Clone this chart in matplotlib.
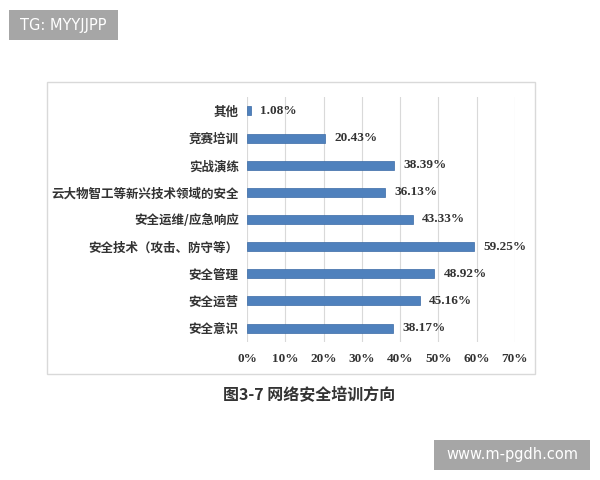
import matplotlib
matplotlib.use("Agg")
import matplotlib.pyplot as plt
from matplotlib.patches import Rectangle

categories = ["安全意识", "安全运营", "安全管理", "安全技术（攻击、防守等）",
              "安全运维/应急响应", "云大物智工等新兴技术领域的安全",
              "实战演练", "竞赛培训", "其他"]
values = [38.17, 45.16, 48.92, 59.25, 43.33, 36.13, 38.39, 20.43, 1.08]
xticks = [0, 10, 20, 30, 40, 50, 60, 70]
title = "图3-7 网络安全培训方向"

plt.rcParams['font.family'] = ['Noto Sans CJK SC', 'DejaVu Sans']

fig = plt.figure(figsize=(6, 4.8), dpi=100)
fig.patch.set_facecolor("white")

def px_rect(x0, y0, x1, y1, **kw):
    return Rectangle((x0/600, 1-y1/480), (x1-x0)/600, (y1-y0)/480,
                     transform=fig.transFigure, **kw)

# chart frame
fig.patches.append(px_rect(47, 82, 535, 374, fill=False,
                           edgecolor="#d9d9d9", linewidth=1.0))

ax = fig.add_axes([247/600, 1-341.6/480, (515-247)/600, (341.6-97.4)/480])
y = list(range(len(categories)))
ax.barh(y, values, height=0.33, color="#4f81bd", edgecolor="#3a6aa5", linewidth=0.5, zorder=3)
for yi, v in zip(y, values):
    ax.text(v + 2.4, yi, f"{v:.2f}%", va="center", ha="left", fontsize=9.5,
            family="Liberation Serif", fontweight="bold", color="#333333")
ax.set_xlim(0, 70)
ax.set_ylim(-0.5, len(categories) - 0.5)
ax.set_xticks(xticks)
ax.set_xticklabels([f"{t}%" for t in xticks], family="Liberation Serif",
                   fontweight="bold", fontsize=9.5, color="#333333")
ax.set_yticks(y)
ax.set_yticklabels(categories, fontsize=9, fontweight="bold", color="#333333")
ax.tick_params(axis="both", length=0)
ax.tick_params(axis="x", pad=8)
ax.tick_params(axis="y", pad=6)
ax.grid(axis="x", color="#d9d9d9", linewidth=0.8, zorder=0)
for s in ax.spines.values():
    s.set_visible(False)

fig.text(223/600, 1-395/480, title, fontsize=11.5, fontweight="bold",
         color="#333333", va="center", ha="left")

# watermark boxes
fig.patches.append(px_rect(9, 10, 118, 40, facecolor="#a6a6a6", edgecolor="none"))
fig.text(63.5/600, 1-25.5/480, "TG: MYYJJPP", fontsize=10.5, color="white",
         family="DejaVu Sans", va="center", ha="center")
fig.patches.append(px_rect(434, 440, 590, 470, facecolor="#a6a6a6", edgecolor="none"))
fig.text(512/600, 1-455/480, "www.m-pgdh.com", fontsize=10.5, color="white",
         family="DejaVu Sans", va="center", ha="center")

fig.savefig("out.png", dpi=100)
